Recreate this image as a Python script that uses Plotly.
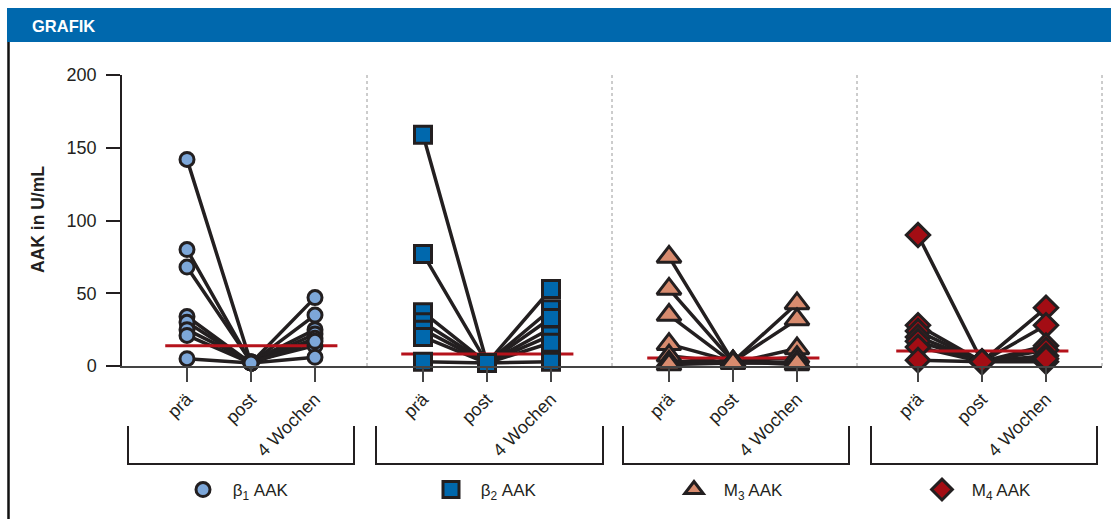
import plotly.graph_objects as go
from plotly.subplots import make_subplots

# ---------------- data ----------------
categories = ["prä", "post", "4 Wochen"]
panel_labels = ["β<sub>1</sub> AAK", "β<sub>2</sub> AAK", "M<sub>3</sub> AAK", "M<sub>4</sub> AAK"]

b1_pre = [142, 80, 68, 34, 30, 25, 21, 5]
b1_post = [2, 2, 3, 2, 2, 3, 2, 2]
b1_wk4 = [35, 47, 25, 22, 19, 14, 17, 6]

b2_pre = [159, 77, 37, 30, 25, 20, 3]
b2_post = [2, 2, 2, 2, 2, 2, 2]
b2_wk4 = [26, 53, 39, 33, 21, 16, 3]

m3_pre = [75, 53, 35, 15, 7, 3, 1]
m3_post = [3, 3, 2, 3, 2, 3, 2]
m3_wk4 = [43, 32, 12, 6, 3, 1, 2]

m4_pre = [90, 28, 24, 20, 17, 13, 4]
m4_post = [3, 3, 3, 3, 3, 3, 3]
m4_wk4 = [40, 28, 14, 11, 7, 3, 5]

ref_lines = [14, 8.2, 5.5, 10.3]

yticks = [0, 50, 100, 150, 200]

# ---------------- styles ----------------
DARK = "#231f20"
fills = ["#7da7d9", "#0068ad", "#d88b6e", "#a30d14"]
symbols = ["circle", "square", "triangle-up", "diamond"]
msizes = [14, 17, 21, 18]
RED = "#b5121b"
FONT = "Liberation Sans, Arial, sans-serif"

W, H = 1111, 519
L, R, T, B = 122, 9, 75, 153
PW = W - L - R
PH = H - T - B


def px2x(px):
    return (px - L) / PW


def px2y(py):
    return (H - B - py) / PH


panels = [
    (b1_pre, b1_post, b1_wk4),
    (b2_pre, b2_post, b2_wk4),
    (m3_pre, m3_post, m3_wk4),
    (m4_pre, m4_post, m4_wk4),
]
# left offset (px) of the first category inside each panel
first_offsets = [65, 56, 57, 61]
unit_px = 64.0
legend_names = ["legend", "legend2", "legend3", "legend4"]
legend_px = [203, 451, 694, 942]

fig = make_subplots(rows=1, cols=4, shared_yaxes=True, horizontal_spacing=0)

for i, (pre, post, wk4) in enumerate(panels):
    col = i + 1
    n = len(pre)
    lx, ly = [], []
    for k in range(n):
        lx += [0, 1, 2, None]
        ly += [pre[k], post[k], wk4[k], None]
    fig.add_trace(go.Scatter(x=lx, y=ly, mode="lines",
                             line=dict(color=DARK, width=3.5),
                             showlegend=False, hoverinfo="skip",
                             cliponaxis=False), row=1, col=col)
    fig.add_trace(go.Scatter(x=[-0.34, 2.35], y=[ref_lines[i], ref_lines[i]],
                             mode="lines", line=dict(color=RED, width=3),
                             showlegend=False, hoverinfo="skip",
                             cliponaxis=False), row=1, col=col)
    mx = [0] * n + [1] * n + [2] * n
    my = list(pre) + list(post) + list(wk4)
    fig.add_trace(go.Scatter(x=mx, y=my, mode="markers",
                             marker=dict(symbol=symbols[i], size=msizes[i],
                                         color=fills[i],
                                         line=dict(color=DARK, width=3)),
                             showlegend=False, cliponaxis=False),
                  row=1, col=col)
    # legend entry
    fig.add_trace(go.Scatter(x=[None], y=[None], mode="markers",
                             name="\u00a0" + panel_labels[i],
                             legend=legend_names[i],
                             marker=dict(symbol=symbols[i], size=msizes[i],
                                         color=fills[i],
                                         line=dict(color=DARK, width=3)),
                             showlegend=True), row=1, col=col)

    span = PW / 4 / unit_px
    x0 = -first_offsets[i] / unit_px
    fig.update_xaxes(range=[x0, x0 + span], tickmode="array",
                     tickvals=[0, 1, 2], ticktext=categories,
                     tickangle=-45, ticks="outside", ticklen=14,
                     tickwidth=1.5, tickcolor="#444",
                     showline=True, linecolor="#444", linewidth=1.5,
                     showgrid=False, zeroline=False,
                     tickfont=dict(family=FONT, size=18, color=DARK),
                     row=1, col=col)

fig.update_yaxes(range=[0, 200], showgrid=False, zeroline=False)
fig.update_yaxes(tickmode="array", tickvals=yticks, ticks="outside",
                 ticklen=14, tickwidth=1.5, tickcolor=DARK,
                 showline=True, linecolor=DARK, linewidth=1.5,
                 ticklabelstandoff=6,
                 tickfont=dict(family=FONT, size=18, color=DARK),
                 row=1, col=1)
for c in [2, 3, 4]:
    fig.update_yaxes(showline=False, showticklabels=False, ticks="",
                     row=1, col=c)

shapes = []
# dashed separators
for fx in [0.25, 0.5, 0.75, 1.0]:
    shapes.append(dict(type="line", xref="paper", yref="paper",
                       x0=fx, x1=fx, y0=0, y1=1,
                       line=dict(color="#9a9a9a", width=1, dash="3px,3px")))
# brackets
brackets = [(128, 354), (376, 603), (623, 849), (871, 1097)]
yb0, yb1 = px2y(426), px2y(464)
for a, b in brackets:
    xa, xb = px2x(a), px2x(b)
    shapes.append(dict(type="path", xref="paper", yref="paper",
                       path=f"M {xa},{yb0} L {xa},{yb1} L {xb},{yb1} L {xb},{yb0}",
                       line=dict(color=DARK, width=2)))
# header bar
shapes.append(dict(type="rect", xref="paper", yref="paper",
                   x0=px2x(7), x1=px2x(1112), y0=px2y(42), y1=px2y(8),
                   fillcolor="#0068ad", line=dict(width=0)))
# left border
shapes.append(dict(type="line", xref="paper", yref="paper",
                   x0=px2x(8.5), x1=px2x(8.5), y0=px2y(42), y1=px2y(520),
                   line=dict(color="#111", width=2.5)))

annotations = [
    dict(text="<b>GRAFIK</b>", xref="paper", yref="paper",
         x=px2x(30), y=px2y(26), xanchor="left", yanchor="middle",
         showarrow=False, font=dict(family=FONT, size=16.5, color="white")),
    dict(text="<b>AAK in U/mL</b>", xref="paper", yref="paper",
         x=px2x(38), y=px2y(220), xanchor="center", yanchor="middle",
         textangle=-90, showarrow=False,
         font=dict(family=FONT, size=17.5, color=DARK)),
]

legend_style = dict(orientation="h", yanchor="middle", xanchor="left",
                    itemwidth=40,
                    font=dict(family=FONT, size=17, color=DARK),
                    bgcolor="rgba(0,0,0,0)", borderwidth=0)
legends = {}
for name, lp in zip(legend_names, legend_px):
    legends[name] = dict(legend_style, x=px2x(lp - 25), y=px2y(490))

fig.update_layout(
    width=W, height=H,
    margin=dict(l=L, r=R, t=T, b=B, autoexpand=False),
    paper_bgcolor="white", plot_bgcolor="white",
    shapes=shapes, annotations=annotations,
    showlegend=True,
    font=dict(family=FONT, color=DARK),
    **legends,
)

fig.write_html(
    "out.html",
    config={"displayModeBar": False},
    post_script="document.body.style.margin='0px';"
                "document.body.style.padding='0px';"
                "document.documentElement.style.overflow='hidden';",
)
